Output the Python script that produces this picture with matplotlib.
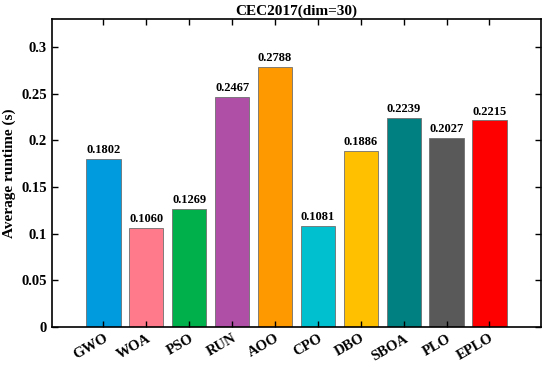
# Average runtime bar chart, CEC2017 dim=30

import matplotlib.pyplot as plt

algos = ['GWO', 'WOA', 'PSO', 'RUN', 'AOO', 'CPO', 'DBO', 'SBOA', 'PLO', 'EPLO']
runtime = [0.1802, 0.1060, 0.1269, 0.2467, 0.2788, 0.1081, 0.1886, 0.2239, 0.2027, 0.2215]
colors = ['#009ADE', '#FF7A8A', '#00B04A', '#B04FA6', '#FF9900',
          '#00C0D0', '#FFC000', '#008080', '#595959', '#FF0000']

plt.rcParams['font.family'] = ['Liberation Serif', 'DejaVu Serif']
plt.rcParams['font.weight'] = 'bold'

fig = plt.figure(figsize=(5.5, 3.67), dpi=100)
ax = fig.add_axes([0.0945, 0.109, 0.889, 0.839])

pos = list(range(1, len(algos) + 1))
bars = ax.bar(pos, runtime, width=0.8, color=colors, edgecolor='#707070', linewidth=0.6)
for x, v in zip(pos, runtime):
	ax.text(x, v + 0.003, '%.4f' % v, ha='center', va='bottom', fontsize=9, fontweight='bold')

ax.set_xlim(-0.2, 11.2)
ax.set_ylim(0, 0.33)
ax.set_yticks([0, 0.05, 0.1, 0.15, 0.2, 0.25, 0.3])
ax.set_yticklabels(['0', '0.05', '0.1', '0.15', '0.2', '0.25', '0.3'])
ax.set_xticks(pos)
ax.set_xticklabels(algos, rotation=30, ha='right', rotation_mode='anchor')
ax.tick_params(direction='in', top=True, right=True, labelsize=10.5, width=1, length=4)
for s in ax.spines.values():
	s.set_linewidth(1.2)
ax.set_ylabel('Average runtime (s)', fontsize=11, fontweight='bold')
ax.set_title('CEC2017(dim=30)', fontsize=11, fontweight='bold', pad=3)

fig.savefig('out.png', dpi=100)
